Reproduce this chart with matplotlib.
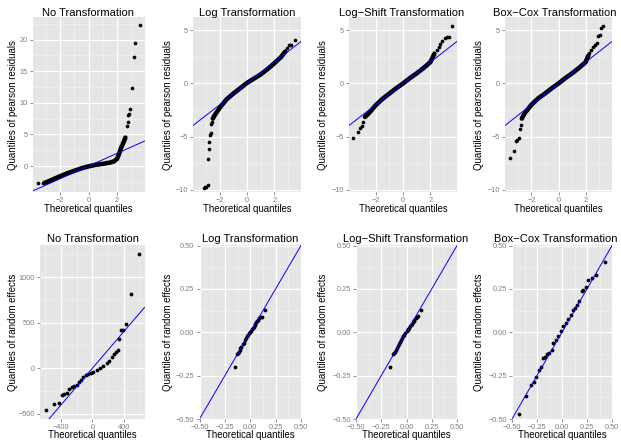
import matplotlib
matplotlib.use('Agg')
import matplotlib.pyplot as plt
from matplotlib.ticker import MultipleLocator, FixedFormatter, FixedLocator

plt.rcParams['font.family'] = ['Liberation Sans', 'DejaVu Sans']

W, H = 621, 440

titles = ['No Transformation', 'Log Transformation',
          'Log\u2212Shift Transformation', 'Box\u2212Cox Transformation']

# ---- top row: pearson residuals (x = theoretical, y = sample) ----
# sparse points and dense curve
res_none_pts_x = [-3.59, -3.21, 2.71, 2.76, 2.80, 2.86, 2.95, 3.06, 3.18, 3.30, 3.60]
res_none_pts_y = [-2.7, -2.7, 6.3, 6.9, 8.0, 8.2, 9.0, 12.4, 17.3, 19.5, 22.3]
res_none_curve_x = [-3.1, -2.8, -2.5, -2.0, -1.5, -1.0, -0.5, 0.0, 0.5, 1.0, 1.5, 1.8, 2.0, 2.1, 2.2, 2.3, 2.4, 2.5, 2.6]
res_none_curve_y = [-2.65, -2.4, -2.1, -1.6, -1.15, -0.75, -0.35, -0.05, 0.2, 0.35, 0.55, 0.75, 1.1, 1.6, 2.2, 2.9, 3.4, 3.9, 4.5]

res_log_pts_x = [-3.17, -3.08, -3.0, -2.88, -2.88, -2.80, -2.75, -2.68, -2.63, -2.60, -2.56, 2.90, 3.04, 3.15, 3.23, 3.52]
res_log_pts_y = [-9.8, -9.75, -9.7, -9.55, -7.1, -6.2, -5.5, -4.85, -4.65, -3.8, -3.6, 3.3, 3.58, 3.58, 3.58, 4.1]
res_log_curve_x = [-2.5, -2.3, -2.0, -1.5, -1.0, -0.5, 0.0, 0.5, 1.0, 1.5, 2.0, 2.5, 2.8]
res_log_curve_y = [-3.3, -2.85, -2.3, -1.5, -0.95, -0.45, 0.05, 0.45, 0.85, 1.35, 1.9, 2.5, 3.0]

res_shift_pts_x = [-3.63, -3.31, -3.14, -3.02, -2.90, 2.50, 2.60, 2.70, 2.87, 3.04, 3.19, 3.33, 3.60]
res_shift_pts_y = [-5.17, -4.55, -4.2, -4.0, -3.6, 3.17, 3.4, 3.7, 3.95, 4.27, 4.4, 4.4, 5.4]
res_shift_curve_x = [-2.78, -2.5, -2.0, -1.5, -1.0, -0.5, 0.0, 0.5, 1.0, 1.5, 2.0, 2.3]
res_shift_curve_y = [-3.15, -2.8, -2.05, -1.45, -0.95, -0.45, 0.0, 0.5, 0.95, 1.45, 2.0, 2.8]

res_boxcox_pts_x = [-3.59, -3.32, -3.15, -3.05, -2.95, -2.85, -2.78, 2.27, 2.40, 2.52, 2.70, 2.83, 2.95, 3.07, 3.17, 3.31]
res_boxcox_pts_y = [-7.0, -6.37, -5.4, -5.35, -5.1, -4.3, -3.9, 2.86, 3.1, 3.4, 3.6, 3.8, 4.5, 4.6, 5.2, 5.4]
res_boxcox_curve_x = [-2.71, -2.5, -2.0, -1.5, -1.0, -0.5, 0.0, 0.5, 1.0, 1.5, 2.0, 2.2]
res_boxcox_curve_y = [-3.3, -2.8, -2.0, -1.4, -0.95, -0.45, 0.0, 0.5, 0.95, 1.45, 2.0, 2.6]

# ---- bottom row: random effects ----
re_none_x = [-597, -491, -427, -385, -359, -329, -295, -265, -235, -201, -171, -145, -115, -81, -51,
             -21, 13, 56, 99, 141, 184, 214, 248, 278, 304, 325, 342, 368, 398, 432, 496, 603]
re_none_y = [-454, -389, -378, -291, -284, -266, -226, -208, -190, -179, -153, -128, -99, -73, -62,
             -55, -36, -18, 0, 25, 54, 83, 127, 156, 181, 199, 326, 417, 417, 489, 809, 1253]

re_log_x = [-0.155, -0.13, -0.122, -0.115, -0.105, -0.099, -0.089, -0.076, -0.066, -0.056, -0.043, -0.033,
            -0.023, -0.010, 0.0, 0.010, 0.016, 0.026, 0.036, 0.043, 0.049, 0.059, 0.069, 0.076, 0.089,
            0.102, 0.115, 0.148]
re_log_y = [-0.198, -0.125, -0.121, -0.112, -0.102, -0.092, -0.083, -0.067, -0.060, -0.044, -0.035, -0.021,
            -0.015, -0.006, 0.004, 0.010, 0.017, 0.025, 0.033, 0.040, 0.048, 0.060, 0.067, 0.071, 0.081,
            0.087, 0.090, 0.129]

re_shift_x = [-0.162, -0.13, -0.122, -0.114, -0.105, -0.098, -0.088, -0.077, -0.066, -0.055, -0.044, -0.033,
              -0.022, -0.010, 0.0, 0.011, 0.017, 0.027, 0.036, 0.044, 0.050, 0.060, 0.070, 0.077, 0.090,
              0.103, 0.114, 0.146]
re_shift_y = [-0.198, -0.127, -0.122, -0.112, -0.101, -0.093, -0.082, -0.068, -0.059, -0.045, -0.034, -0.022,
              -0.014, -0.006, 0.005, 0.011, 0.016, 0.026, 0.034, 0.041, 0.047, 0.061, 0.066, 0.072, 0.082,
              0.088, 0.091, 0.129]

re_boxcox_x = [-0.434, -0.358, -0.311, -0.285, -0.262, -0.235, -0.209, -0.192, -0.169, -0.152, -0.129, -0.103,
               -0.086, -0.063, -0.036, -0.010, 0.013, 0.040, 0.063, 0.089, 0.106, 0.129, 0.152, 0.169, 0.195,
               0.212, 0.235, 0.262, 0.295, 0.344, 0.427]
re_boxcox_y = [-0.473, -0.367, -0.303, -0.288, -0.259, -0.217, -0.203, -0.149, -0.140, -0.126, -0.120, -0.101,
               -0.063, -0.043, -0.024, 0.005, 0.034, 0.053, 0.076, 0.101, 0.130, 0.140, 0.159, 0.178, 0.236,
               0.246, 0.259, 0.300, 0.313, 0.332, 0.404]

# panel boxes in pixels: left, top, right, bottom
top_boxes = [(32.5, 17.5, 144.5, 192), (193, 17.5, 301, 192), (349, 17.5, 457, 192), (505, 17.5, 612, 192)]
bot_boxes = [(40, 245.5, 144.5, 419), (199.5, 245.5, 301, 419), (356, 245.5, 457, 419), (512, 245.5, 612, 419)]
top_title_x = [88.3, 246.7, 402, 555]
bot_title_x = [92.8, 250, 405.5, 556]
ylabel_x = [13.3, 168.3, 323.3, 479.3]

fig = plt.figure(figsize=(W / 100, H / 100), dpi=100)


def make_ax(box):
    l, t, r, b = box
    ax = fig.add_axes([l / W, 1 - b / H, (r - l) / W, (b - t) / H])
    ax.set_facecolor('#E5E5E5')
    for s in ax.spines.values():
        s.set_visible(False)
    ax.set_axisbelow(True)
    ax.grid(which='major', color='white', lw=0.9)
    ax.grid(which='minor', color='#F2F2F2', lw=0.45)
    ax.tick_params(which='major', length=2.4, width=0.6, color='#7F7F7F', labelcolor='#7F7F7F',
                   labelsize=5.3, pad=1.2)
    ax.tick_params(which='minor', length=0)
    return ax


def gg_ticks(ax, xt, yt, xlab=None, ylab=None):
    ax.xaxis.set_major_locator(FixedLocator(xt))
    ax.yaxis.set_major_locator(FixedLocator(yt))
    ax.xaxis.set_minor_locator(MultipleLocator((xt[1] - xt[0]) / 2))
    ax.yaxis.set_minor_locator(MultipleLocator((yt[1] - yt[0]) / 2))
    if xlab:
        ax.xaxis.set_major_formatter(FixedFormatter(xlab))
    if ylab:
        ax.yaxis.set_major_formatter(FixedFormatter(ylab))


def labels(box, title, tx, ylabel, ty, xy, ly_x):
    l, t, r, b = box
    cx = (l + r) / 2
    fig.text(tx / W, 1 - ty / H, title, ha='center', va='center', fontsize=8)
    fig.text(cx / W, 1 - xy / H, 'Theoretical quantiles', ha='center', va='center', fontsize=6.9)
    fig.text(ly_x / W, 1 - (t + b) / 2 / H, ylabel, ha='center', va='center', rotation=90, fontsize=6.9)


top_data = [
    (res_none_pts_x, res_none_pts_y, res_none_curve_x, res_none_curve_y),
    (res_log_pts_x, res_log_pts_y, res_log_curve_x, res_log_curve_y),
    (res_shift_pts_x, res_shift_pts_y, res_shift_curve_x, res_shift_curve_y),
    (res_boxcox_pts_x, res_boxcox_pts_y, res_boxcox_curve_x, res_boxcox_curve_y),
]
top_ylims = [(-4.1, 23.5), (-10.2, 6.2), (-10.2, 6.2), (-10.2, 6.2)]

for i, (px, py, cx_, cy_) in enumerate(top_data):
    ax = make_ax(top_boxes[i])
    ax.plot(cx_, cy_, color='black', lw=3.3, solid_capstyle='round', solid_joinstyle='round', zorder=2)
    ax.scatter(px, py, s=7, color='black', lw=0, zorder=3)
    ax.axline((0, 0), slope=1, color='#0000FF', lw=0.7, zorder=4)
    ax.set_xlim(-3.95, 3.95)
    ax.set_ylim(*top_ylims[i])
    if i == 0:
        gg_ticks(ax, [-2, 0, 2], [0, 5, 10, 15, 20])
    else:
        gg_ticks(ax, [-2, 0, 2], [-10, -5, 0, 5])
    labels(top_boxes[i], titles[i], top_title_x[i], 'Quantiles of pearson residuals', 12.5, 209.3, ylabel_x[i])

bot_data = [(re_none_x, re_none_y), (re_log_x, re_log_y), (re_shift_x, re_shift_y), (re_boxcox_x, re_boxcox_y)]
small = [-0.5, -0.25, 0.0, 0.25, 0.5]
small_lab = ['\u22120.50', '\u22120.25', '0.00', '0.25', '0.50']

for i, (px, py) in enumerate(bot_data):
    ax = make_ax(bot_boxes[i])
    ax.scatter(px, py, s=7.5, color='black', lw=0, zorder=3)
    ax.axline((0, 0), slope=1, color='#0000FF', lw=0.7, zorder=4)
    if i == 0:
        ax.set_xlim(-670, 667)
        ax.set_ylim(-556, 1346)
        gg_ticks(ax, [-400, 0, 400], [-500, 0, 500, 1000])
    else:
        ax.set_xlim(-0.5, 0.5)
        ax.set_ylim(-0.5, 0.5)
        gg_ticks(ax, small, small, small_lab, small_lab)
    labels(bot_boxes[i], titles[i], bot_title_x[i], 'Quantiles of random effects', 239, 434.5, ylabel_x[i])

fig.savefig('out.png', dpi=100)
